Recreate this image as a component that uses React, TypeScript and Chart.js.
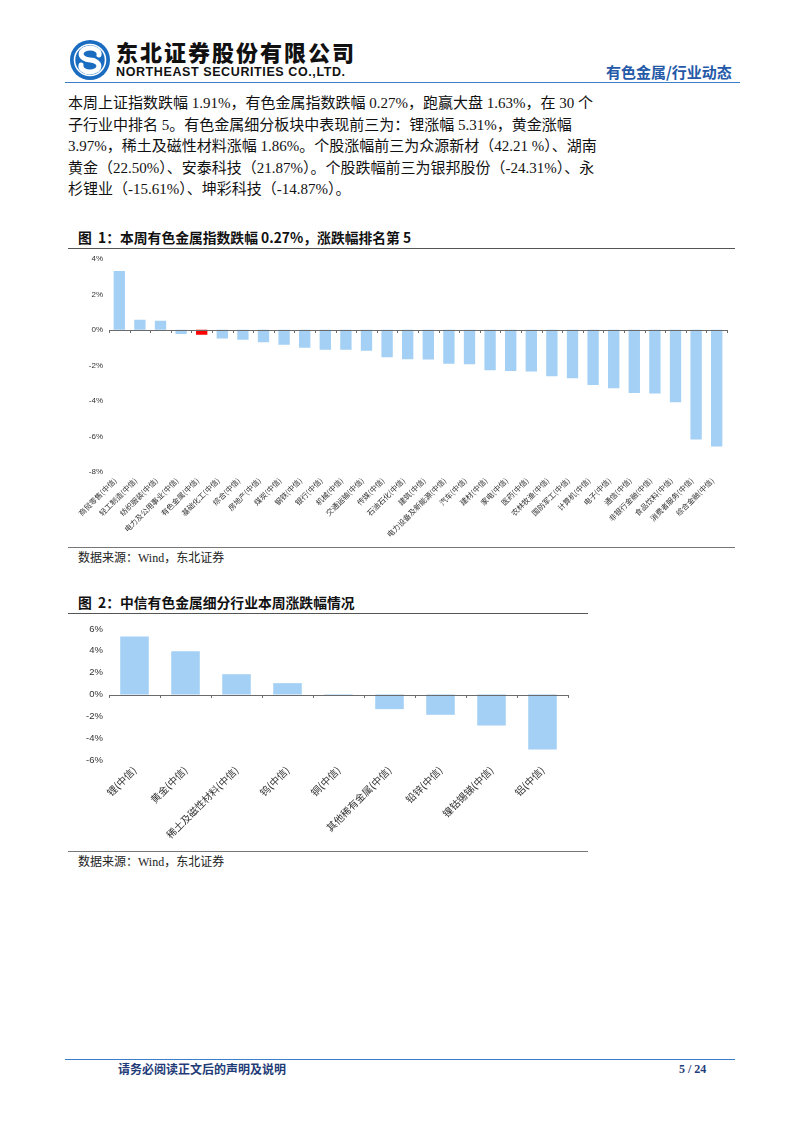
import React, { useEffect, useRef } from "react";
import { Chart, registerables } from "chart.js";

Chart.register(...registerables);

// ---------- data ----------
const industries1 = [
  "商贸零售", "轻工制造", "纺织服装", "电力及公用事业", "有色金属", "基础化工", "综合", "房地产",
  "煤炭", "钢铁", "银行", "机械", "交通运输", "传媒", "石油石化", "建筑", "电力设备及新能源",
  "汽车", "建材", "家电", "医药", "农林牧渔", "国防军工", "计算机", "电子", "通信",
  "非银行金融", "食品饮料", "消费者服务", "综合金融",
];
const changes1 = [
  3.32, 0.57, 0.51, -0.23, -0.27, -0.48, -0.55, -0.7, -0.84, -1.01, -1.12, -1.12, -1.17, -1.54,
  -1.65, -1.67, -1.91, -1.93, -2.28, -2.31, -2.35, -2.61, -2.72, -3.1, -3.28, -3.56, -3.58,
  -4.07, -6.17, -6.57,
];
const highlight1 = "有色金属";

const metals2 = ["锂", "黄金", "稀土及磁性材料", "钨", "铜", "其他稀有金属", "铅锌", "镍钴锡锑", "铝"];
const changes2 = [5.31, 3.97, 1.86, 1.04, -0.06, -1.34, -1.86, -2.84, -5.03];

const suffix = "(中信)";
const yTicks1 = { min: -8, max: 4, step: 2 };
const yTicks2 = { min: -6, max: 6, step: 2 };

const BLUE = "#a3d0f4";
const RED = "#ff0000";
const CJK = '"Noto Sans CJK SC", sans-serif';
const SERIF = '"Liberation Serif", "Times New Roman", "Noto Sans CJK SC", serif';

// ---------- plugin: zero axis line with small ticks ----------
const zeroAxis = {
  id: "zeroAxis",
  afterDatasetsDraw(chart: any) {
    const { ctx, scales } = chart;
    const x = scales.x;
    const y = scales.y;
    const y0 = y.getPixelForValue(0);
    const n = chart.data.labels.length;
    const step = (x.right - x.left) / n;
    ctx.save();
    ctx.strokeStyle = "#6b6b6b";
    ctx.lineWidth = 1;
    ctx.beginPath();
    ctx.moveTo(x.left, Math.round(y0) + 0.5);
    ctx.lineTo(x.right, Math.round(y0) + 0.5);
    for (let i = 0; i <= n; i++) {
      const xx = Math.round(x.left + i * step) + 0.5;
      ctx.moveTo(xx, Math.round(y0));
      ctx.lineTo(xx, Math.round(y0) + 3);
    }
    ctx.stroke();
    ctx.restore();
  },
};

type BarProps = {
  labels: string[];
  values: number[];
  colors: string[];
  width: number;
  height: number;
  yRange: { min: number; max: number; step: number };
  yFont: number;
  xFont: number;
  yAxisWidth: number;
  xAxisHeight: number;
  padding: { top: number; right: number };
  barPct: number;
  labelOffset: number;
};

function BarChart(p: BarProps) {
  const ref = useRef<HTMLCanvasElement | null>(null);
  useEffect(() => {
    if (!ref.current) return;
    const chart = new Chart(ref.current, {
      type: "bar",
      data: {
        labels: p.labels,
        datasets: [
          {
            data: p.values,
            backgroundColor: p.colors,
            borderWidth: 0,
            barPercentage: p.barPct,
            categoryPercentage: 1,
          },
        ],
      },
      options: {
        animation: false,
        responsive: false,
        maintainAspectRatio: false,
        devicePixelRatio: 1,
        layout: { padding: { top: p.padding.top, right: p.padding.right, left: 0, bottom: 0 } },
        plugins: { legend: { display: false }, tooltip: { enabled: false }, title: { display: false } },
        scales: {
          x: {
            grid: { display: false, drawTicks: false },
            border: { display: false },
            afterFit: (s: any) => {
              s.height = p.xAxisHeight;
            },
            ticks: {
              autoSkip: false,
              minRotation: 45,
              maxRotation: 45,
              padding: 4,
              labelOffset: p.labelOffset,
              color: "#333",
              font: { family: CJK, size: p.xFont },
            },
          },
          y: {
            min: p.yRange.min,
            max: p.yRange.max,
            grid: { display: false, drawTicks: false },
            border: { display: false },
            afterFit: (s: any) => {
              s.width = p.yAxisWidth;
            },
            ticks: {
              stepSize: p.yRange.step,
              padding: 6,
              color: "#333",
              font: { family: '"Liberation Sans", Arial, sans-serif', size: p.yFont },
              callback: (v: any) => `${v}%`,
            },
          },
        },
      },
      plugins: [zeroAxis],
    });
    return () => chart.destroy();
  }, []);
  return <canvas ref={ref} width={p.width} height={p.height} style={{ display: "block" }} />;
}

function Logo() {
  return (
    <svg width={42} height={42} viewBox="-21 -21 42 42">
      <circle cx={0} cy={0} r={20} fill="#1a6cc0" />
      <circle cx={0} cy={0} r={15.5} fill="none" stroke="#ffffff" strokeWidth={1.6} />
      <path
        d="M 9 -5 A 9 6 0 1 0 0 0 A 9 6 0 1 1 -9 5"
        fill="none"
        stroke="#ffffff"
        strokeWidth={5}
        strokeLinecap="round"
      />
    </svg>
  );
}

const abs = (left: number, top: number, extra: React.CSSProperties = {}): React.CSSProperties => ({
  position: "absolute",
  left,
  top,
  ...extra,
});

const paragraph = [
  "本周上证指数跌幅 1.91%，有色金属指数跌幅 0.27%，跑赢大盘 1.63%，在 30 个",
  "子行业中排名 5。有色金属细分板块中表现前三为：锂涨幅 5.31%，黄金涨幅",
  "3.97%，稀土及磁性材料涨幅 1.86%。个股涨幅前三为众源新材（42.21 %）、湖南",
  "黄金（22.50%）、安泰科技（21.87%）。个股跌幅前三为银邦股份（-24.31%）、永",
  "杉锂业（-15.61%）、坤彩科技（-14.87%）。",
];

export default function App() {
  const labels1 = industries1.map((n) => n + suffix);
  const colors1 = industries1.map((n) => (n === highlight1 ? RED : BLUE));
  const labels2 = metals2.map((n) => n + suffix);
  const colors2 = metals2.map(() => BLUE);

  return (
    <div style={{ position: "absolute", left: 0, top: 0, width: 802, height: 1133, background: "#fff", overflow: "hidden" }}>
      {/* header */}
      <div style={abs(69, 39)}>
        <Logo />
      </div>
      <div
        style={abs(116, 38, {
          fontFamily: CJK,
          fontWeight: 900,
          fontSize: 22,
          lineHeight: "26px",
          letterSpacing: 2,
          color: "#111",
          whiteSpace: "nowrap",
        })}
      >
        东北证券股份有限公司
      </div>
      <div
        style={abs(116, 64, {
          fontFamily: '"Liberation Sans", Arial, sans-serif',
          fontWeight: 700,
          fontSize: 12.5,
          lineHeight: "16px",
          letterSpacing: 0.6,
          color: "#111",
          whiteSpace: "nowrap",
        })}
      >
        NORTHEAST SECURITIES CO.,LTD.
      </div>
      <div
        style={abs(606, 62, {
          fontFamily: CJK,
          fontWeight: 700,
          fontSize: 15,
          lineHeight: "20px",
          color: "#2459a8",
          whiteSpace: "nowrap",
        })}
      >
        有色金属/行业动态
      </div>
      <div style={abs(65, 82, { width: 675, height: 0, borderTop: "1.5px solid #3b7fcb" })} />

      {/* paragraph */}
      {paragraph.map((line, i) => (
        <div
          key={i}
          style={abs(68, 93 + i * 21.5, {
            fontFamily: SERIF,
            fontSize: 15,
            lineHeight: "21.5px",
            color: "#111",
            whiteSpace: "pre",
          })}
        >
          {line}
        </div>
      ))}

      {/* figure 1 */}
      <div
        style={abs(78, 227, {
          fontFamily: CJK,
          fontWeight: 700,
          fontSize: 13.8,
          lineHeight: "20px",
          color: "#111",
          whiteSpace: "pre",
        })}
      >
        图  1：本周有色金属指数跌幅 0.27%，涨跌幅排名第 5
      </div>
      <div style={abs(68, 248, { width: 667, height: 0, borderTop: "1.5px solid #555" })} />
      <div style={abs(60, 248)}>
        <BarChart
          labels={labels1}
          values={changes1}
          colors={colors1}
          width={680}
          height={300}
          yRange={yTicks1}
          yFont={8}
          xFont={7.5}
          yAxisWidth={49}
          xAxisHeight={76}
          padding={{ top: 6, right: 13 }}
          barPct={0.55}
          labelOffset={-4}
        />
      </div>
      <div style={abs(68, 547, { width: 667, height: 0, borderTop: "1px solid #777" })} />
      <div
        style={abs(78, 550, {
          fontFamily: SERIF,
          fontSize: 12,
          lineHeight: "16px",
          color: "#222",
          whiteSpace: "pre",
        })}
      >
        数据来源：Wind，东北证券
      </div>

      {/* figure 2 */}
      <div
        style={abs(78, 592, {
          fontFamily: CJK,
          fontWeight: 700,
          fontSize: 13.8,
          lineHeight: "20px",
          color: "#111",
          whiteSpace: "pre",
        })}
      >
        图  2：中信有色金属细分行业本周涨跌幅情况
      </div>
      <div style={abs(68, 613, { width: 520, height: 0, borderTop: "1.5px solid #555" })} />
      <div style={abs(60, 614)}>
        <BarChart
          labels={labels2}
          values={changes2}
          colors={colors2}
          width={530}
          height={237}
          yRange={yTicks2}
          yFont={9.5}
          xFont={10}
          yAxisWidth={49}
          xAxisHeight={91}
          padding={{ top: 15, right: 22 }}
          barPct={0.56}
          labelOffset={0}
        />
      </div>
      <div style={abs(68, 851, { width: 520, height: 0, borderTop: "1px solid #777" })} />
      <div
        style={abs(78, 854, {
          fontFamily: SERIF,
          fontSize: 12,
          lineHeight: "16px",
          color: "#222",
          whiteSpace: "pre",
        })}
      >
        数据来源：Wind，东北证券
      </div>

      {/* footer */}
      <div style={abs(65, 1059, { width: 670, height: 0, borderTop: "1.5px solid #3b7fcb" })} />
      <div
        style={abs(118, 1061, {
          fontFamily: CJK,
          fontWeight: 700,
          fontSize: 12,
          lineHeight: "16px",
          color: "#1f3c78",
          whiteSpace: "nowrap",
        })}
      >
        请务必阅读正文后的声明及说明
      </div>
      <div
        style={abs(679, 1061, {
          fontFamily: SERIF,
          fontWeight: 700,
          fontSize: 12,
          lineHeight: "16px",
          color: "#1f3c78",
          whiteSpace: "pre",
        })}
      >
        5 / 24
      </div>
    </div>
  );
}
